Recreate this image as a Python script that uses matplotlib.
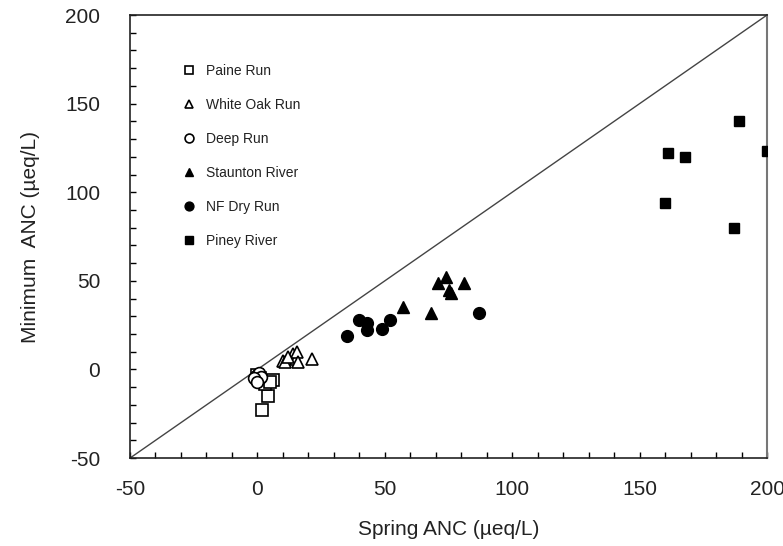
import matplotlib
matplotlib.use("Agg")
import matplotlib.pyplot as plt
from matplotlib.ticker import MultipleLocator

plt.rcParams['font.family'] = ['Liberation Sans', 'DejaVu Sans']
plt.rcParams['axes.unicode_minus'] = False

# Data (Spring ANC, Minimum ANC) in µeq/L
paine_x = [2, 4, 6, 3, 1, 0, 5]
paine_y = [-23, -15, -6, -8, -5, -3, -7]
whiteoak_x = [10, 11, 14, 15, 15.5, 16, 21.5, 12]
whiteoak_y = [5, 4, 9, 6, 10, 4, 6, 7]
deep_x = [-1, 0, 1, -0.5, 0.5, 1.5, -1.5, 0]
deep_y = [-4, -3, -5, -6, -2, -4, -5, -7]
staunton_x = [71, 74, 81, 75, 76, 57, 68]
staunton_y = [49, 52, 49, 45, 43, 35, 32]
nfdry_x = [35, 40, 43, 43, 49, 52, 87]
nfdry_y = [19, 28, 26, 22, 23, 28, 32]
piney_x = [189, 161, 168, 160, 187, 200]
piney_y = [140, 122, 120, 94, 80, 123]

labels = ['Paine Run', 'White Oak Run', 'Deep Run', 'Staunton River', 'NF Dry Run', 'Piney River']

fig = plt.figure(figsize=(7.83, 5.46), dpi=100)
ax = fig.add_axes([0.166, 0.161, 0.8136, 0.8115])

ax.plot([-50, 200], [-50, 200], color='#444444', lw=1.0, zorder=1)

ms = 8.5
ax.plot(paine_x, paine_y, 's', mfc='white', mec='black', mew=1.2, ms=ms, ls='none', label=labels[0], zorder=3)
ax.plot(whiteoak_x, whiteoak_y, '^', mfc='white', mec='black', mew=1.2, ms=ms, ls='none', label=labels[1], zorder=3)
ax.plot(deep_x, deep_y, 'o', mfc='white', mec='black', mew=1.2, ms=ms, ls='none', label=labels[2], zorder=3)
ax.plot(staunton_x, staunton_y, '^', color='black', ms=ms, ls='none', label=labels[3], zorder=3)
ax.plot(nfdry_x, nfdry_y, 'o', color='black', ms=ms, ls='none', label=labels[4], zorder=3)
ax.plot(piney_x, piney_y, 's', color='black', ms=7.5, ls='none', label=labels[5], zorder=3)

ax.set_xlim(-50, 200)
ax.set_ylim(-50, 200)
ax.xaxis.set_major_locator(MultipleLocator(50))
ax.yaxis.set_major_locator(MultipleLocator(50))
ax.xaxis.set_minor_locator(MultipleLocator(10))
ax.yaxis.set_minor_locator(MultipleLocator(10))
ax.tick_params(which='both', direction='in', length=4.5, width=1, top=False, right=False,
               labelsize=15, labelcolor='#222222')
ax.tick_params(axis='x', which='major', pad=16)
ax.tick_params(axis='y', which='major', pad=21.5)

for s in ['left', 'bottom', 'top']:
    ax.spines[s].set_color('#222222')
    ax.spines[s].set_linewidth(1.2)
ax.spines['right'].set_color('#777777')
ax.spines['right'].set_linewidth(1.5)

ax.set_xlabel('Spring ANC (µeq/L)', fontsize=15, color='#222222', labelpad=15)
ax.set_ylabel('Minimum  ANC (µeq/L)', fontsize=15, color='#222222', labelpad=18)

leg = ax.legend(loc='upper left', bbox_to_anchor=(0.065, 0.917), frameon=False,
                fontsize=10, labelspacing=1.43, handletextpad=0.8, markerscale=0.75,
                handlelength=0.8)
for t in leg.get_texts():
    t.set_color('#222222')

fig.savefig('out.png', dpi=100)
